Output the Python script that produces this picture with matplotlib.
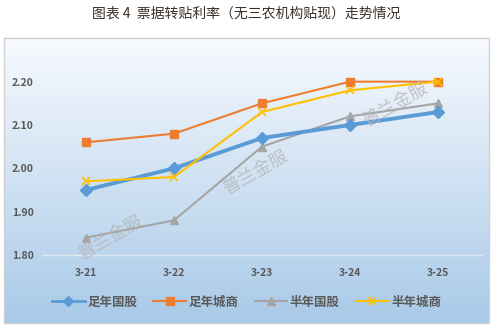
import numpy as np
import matplotlib.pyplot as plt
from matplotlib.patches import Rectangle

plt.rcParams['font.family'] = ['Noto Sans CJK SC', 'DejaVu Sans']

# 数据
dates = ['3-21', '3-22', '3-23', '3-24', '3-25']
zu_guogu = [1.95, 2.00, 2.07, 2.10, 2.13]      # 足年国股
zu_chengshang = [2.06, 2.08, 2.15, 2.20, 2.20]  # 足年城商
ban_guogu = [1.84, 1.88, 2.05, 2.12, 2.15]      # 半年国股
ban_chengshang = [1.97, 1.98, 2.13, 2.18, 2.20]  # 半年城商
yticks = [1.80, 1.90, 2.00, 2.10, 2.20]

W, H = 493, 329
fig = plt.figure(figsize=(W / 100, H / 100), dpi=100)

# 渐变背景框
bg = fig.add_axes([4 / W, 1 - 323 / H, (489 - 4) / W, (323 - 38) / H])
grad = np.linspace(0, 1, 256).reshape(-1, 1)
top = np.array([0.97, 0.98, 0.995])
bot = np.array([0.66, 0.79, 0.91])
img = top[None, None, :] * (1 - grad[..., None]) + bot[None, None, :] * grad[..., None]
bg.imshow(img, aspect='auto', extent=[0, 1, 0, 1])
bg.set_xlim(0, 1)
bg.set_ylim(0, 1)
bg.axis('off')
bg.add_patch(Rectangle((0, 0), 1, 1, fill=False, edgecolor='#d0d0d0', lw=1,
                       transform=bg.transAxes, clip_on=False))

fig.text(0.5, 1 - 14 / H, '图表 4  票据转贴利率（无三农机构贴现）走势情况',
         ha='center', va='center', fontsize=10, color='#3a3025', fontweight='medium')

ax = fig.add_axes([42 / W, 1 - 255 / H, (482 - 42) / W, (255 - 47) / H])
ax.patch.set_alpha(0)
x = np.arange(len(dates))

# 水印
for wx, wy in [(110, 238), (255, 173), (395, 105)]:
    fig.text(wx / W, 1 - wy / H, '普兰金服', rotation=30, ha='center', va='center',
             fontsize=13, color='#b4b4b4', alpha=0.75, zorder=0.5)

ax.plot(x, zu_guogu, color='#5b9bd5', lw=2.8, marker='D', ms=6, label='足年国股', zorder=5)
ax.plot(x, zu_chengshang, color='#ed7d31', lw=1.5, marker='s', ms=5.5, label='足年城商', zorder=4)
ax.plot(x, ban_guogu, color='#a5a5a5', lw=1.5, marker='^', ms=6, label='半年国股', zorder=3)
ax.plot(x, ban_chengshang, color='#ffc000', lw=1.5, marker='x', ms=6, mew=1.2, label='半年城商', zorder=6)

ax.set_xlim(-0.5, len(dates) - 0.5)
ax.set_ylim(1.80, 2.28)
ax.set_xticks(x)
ax.set_xticklabels(dates)
ax.set_yticks(yticks)
ax.set_yticklabels(['%.2f' % v for v in yticks])
ax.tick_params(length=0, colors='#595959', labelsize=7.5)
ax.tick_params(axis='x', pad=9)
ax.tick_params(axis='y', pad=6)
for lab in ax.get_xticklabels() + ax.get_yticklabels():
    lab.set_fontweight('bold')
for s in ['top', 'right', 'left']:
    ax.spines[s].set_visible(False)
ax.spines['bottom'].set_color('#dfe8f1')
ax.spines['bottom'].set_linewidth(1)

handles, labels = ax.get_legend_handles_labels()
leg = fig.legend(handles, labels, loc='center', bbox_to_anchor=(0.5, 1 - 302 / H), ncol=4,
                 frameon=False, handlelength=2.6, columnspacing=1.3, handletextpad=0.2,
                 prop={'size': 9, 'weight': 'bold'})
for t in leg.get_texts():
    t.set_color('#595959')
leg.legend_handles[0].set_linewidth(2)
leg.legend_handles[0].set_markersize(5)

fig.savefig('out.png', dpi=100)
